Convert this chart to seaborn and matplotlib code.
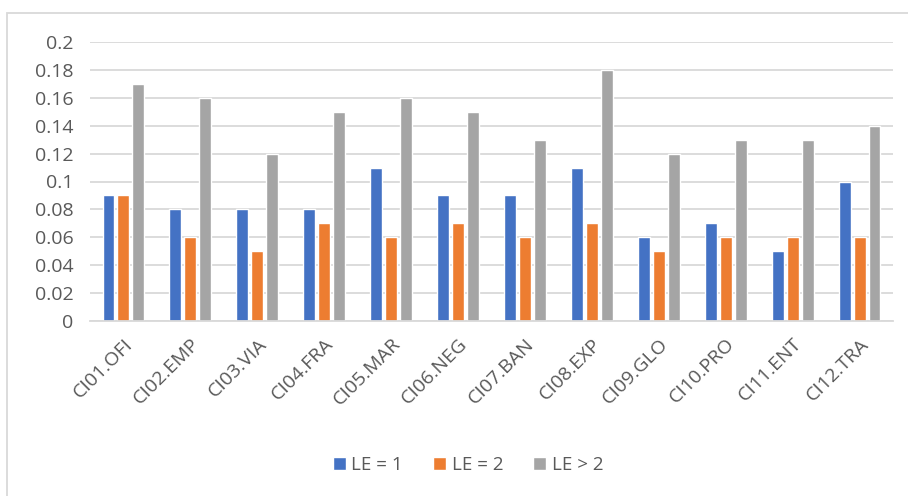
import matplotlib
matplotlib.use("Agg")
import matplotlib.pyplot as plt
import seaborn as sns
import pandas as pd
from matplotlib.patches import Rectangle

categories = ["CI01.OFI", "CI02.EMP", "CI03.VIA", "CI04.FRA", "CI05.MAR", "CI06.NEG",
              "CI07.BAN", "CI08.EXP", "CI09.GLO", "CI10.PRO", "CI11.ENT", "CI12.TRA"]
series_names = ["LE = 1", "LE = 2", "LE > 2"]
le_1 = [0.09, 0.08, 0.08, 0.08, 0.11, 0.09, 0.09, 0.11, 0.06, 0.07, 0.05, 0.10]
le_2 = [0.09, 0.06, 0.05, 0.07, 0.06, 0.07, 0.06, 0.07, 0.05, 0.06, 0.06, 0.06]
le_gt2 = [0.17, 0.16, 0.12, 0.15, 0.16, 0.15, 0.13, 0.18, 0.12, 0.13, 0.13, 0.14]
y_ticks = [0, 0.02, 0.04, 0.06, 0.08, 0.1, 0.12, 0.14, 0.16, 0.18, 0.2]
y_tick_labels = ["0", "0.02", "0.04", "0.06", "0.08", "0.1", "0.12", "0.14", "0.16", "0.18", "0.2"]

colors = ["#4472C4", "#ED7D31", "#A5A5A5"]
text_color = "#595959"
grid_color = "#D9D9D9"

rows = []
for name, vals in zip(series_names, [le_1, le_2, le_gt2]):
    for cat, v in zip(categories, vals):
        rows.append({"category": cat, "series": name, "value": v})
df = pd.DataFrame(rows)

sns.set_theme(style="white")
plt.rcParams["font.family"] = ["Open Sans", "DejaVu Sans"]

fig = plt.figure(figsize=(9.08, 4.96), dpi=100)
ax = fig.add_axes([90 / 908, 1 - 321 / 496, 803 / 908, 279 / 496])

sns.barplot(data=df, x="category", y="value", hue="series", order=categories,
            hue_order=series_names, palette=colors, width=0.67, gap=0.2,
            saturation=1, ax=ax, legend=True)

ax.set_ylim(0, 0.2)
ax.set_xlim(-0.5, len(categories) - 0.5)
ax.set_yticks(y_ticks)
ax.set_yticklabels(y_tick_labels)
ax.yaxis.grid(True, color=grid_color, linewidth=1.3)
ax.set_axisbelow(True)
for side in ["top", "right", "left"]:
    ax.spines[side].set_visible(False)
ax.spines["bottom"].set_color(grid_color)
ax.spines["bottom"].set_linewidth(1.3)
ax.set_xlabel("")
ax.set_ylabel("")
ax.tick_params(axis="both", length=0, colors=text_color, labelsize=14)
ax.tick_params(axis="y", pad=12)
ax.tick_params(axis="x", pad=10)
for lbl in ax.get_xticklabels():
    lbl.set_rotation(45)
    lbl.set_ha("right")
    lbl.set_rotation_mode("anchor")

handles, labels = ax.get_legend_handles_labels()
ax.get_legend().remove()
fig.legend(handles, labels, loc="center", bbox_to_anchor=(468 / 908, 1 - 465 / 496),
           ncol=3, frameon=False, fontsize=13.5, labelcolor=text_color,
           handlelength=0.7, handleheight=0.7, handletextpad=0.3, columnspacing=1.6)

# chart area border
fig.patches.append(Rectangle((7 / 908, -0.1), 1.2, (1 - 13 / 496) + 0.1,
                             transform=fig.transFigure, fill=False,
                             edgecolor=grid_color, linewidth=1.3))

fig.savefig("out.png", dpi=100)
